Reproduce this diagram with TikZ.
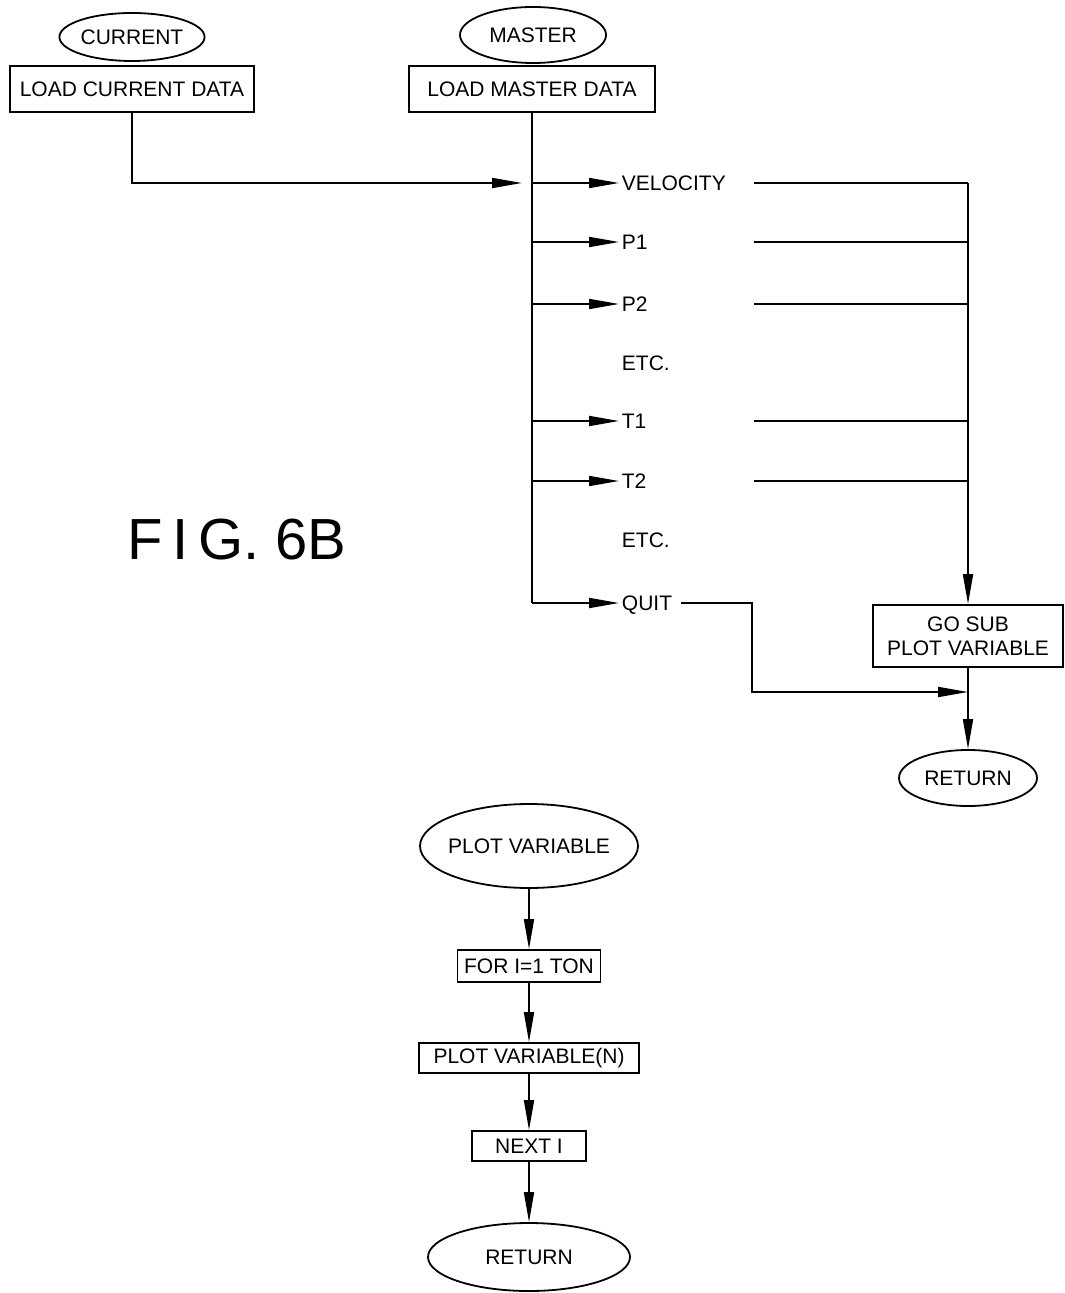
\documentclass[tikz,border=0pt]{standalone}
\usepackage{fontspec}
\setmainfont{Liberation Sans}
\usetikzlibrary{arrows.meta,shapes.geometric}

\begin{document}
\begin{tikzpicture}[x=0.5pt,y=-0.5pt,line width=0.9pt,
  font=\fontsize{10.5}{12}\selectfont,
  term/.style={draw,ellipse,inner sep=0pt},
  box/.style={draw,rectangle,inner sep=0pt},
  lbl/.style={anchor=west,inner sep=1pt,text height=7.5pt,text depth=0pt},
  arr/.style={-{Triangle[length=15pt,width=5pt]}}]
\useasboundingbox (0,0) rectangle (1064,1293);

\node[term,minimum width=71pt,minimum height=24pt] (current) at (132,37) {CURRENT};
\node[box,minimum width=122pt,minimum height=23pt] (loadcur) at (132,89) {LOAD CURRENT DATA};
\node[term,minimum width=73pt,minimum height=28pt] (master) at (533,35) {MASTER};
\node[box,minimum width=123pt,minimum height=23pt] (loadmas) at (532,89) {LOAD MASTER DATA};

\foreach \n/\y/\t in {vel/183/VELOCITY,p1/242/P1,p2/304/P2,etca/363/ETC.,t1/421/T1,t2/481/T2,etcb/540/ETC.,quit/603/QUIT}
  \node[lbl] (\n) at (619,\y) {\t};

\node[box,minimum width=95pt,minimum height=31pt,align=center] (gosub) at (968,636) {GO SUB\\PLOT VARIABLE};
\node[term,minimum width=69pt,minimum height=28pt] (ret) at (968,778) {RETURN};
\node[font=\fontsize{29}{34}\selectfont] (fig) at (237,540) {F\,I\,G.\ 6B};

\coordinate (rstart) at (754,0);
\coordinate (qbend) at (752,692);

\draw[arr,shorten >=5pt] (loadcur.south) |- (loadmas.south |- vel.west);
\draw (loadmas.south) -- (loadmas.south |- quit.west);
\foreach \n in {vel,p1,p2,t1,t2,quit}
  \draw[arr] (loadmas.south |- \n.west) -- (\n.west);
\foreach \n in {vel,p1,p2,t1,t2}
  \draw (rstart |- \n.west) -- (gosub.north |- \n.west);
\draw[arr] (gosub.north |- vel.west) -- (gosub.north);
\draw[arr,shorten <=3pt] (quit.east) -| (qbend) -- (gosub.south |- qbend);
\draw[arr] (gosub.south) -- (ret.north);

\node[term,minimum width=109pt,minimum height=42pt,inner xsep=-4pt] (plotvar) at (529,846) {PLOT VARIABLE};
\node[box,minimum width=71.5pt,minimum height=16pt] (fori) at (529,966) {FOR I=1 TON};
\node[box,minimum width=110pt,minimum height=15pt] (plotn) at (529,1058) {PLOT VARIABLE(N)};
\node[box,minimum width=57pt,minimum height=15pt] (nexti) at (529,1146) {NEXT I};
\node[term,minimum width=101pt,minimum height=34pt] (ret2) at (529,1257) {RETURN};

\draw[arr] (plotvar) -- (fori);
\draw[arr] (fori) -- (plotn);
\draw[arr] (plotn) -- (nexti);
\draw[arr] (nexti) -- (ret2);
\end{tikzpicture}
\end{document}
